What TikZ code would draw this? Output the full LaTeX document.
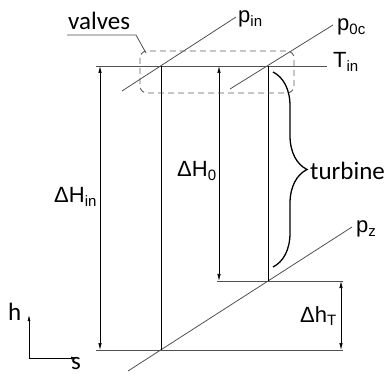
\documentclass[tikz,border=0pt]{standalone}
\usepackage{fontspec}
\setmainfont{Liberation Sans}
\newfontfamily\calfont{Carlito}
\usetikzlibrary{arrows.meta,decorations.pathreplacing}
\definecolor{Iso}{HTML}{505050}
\definecolor{Dash}{HTML}{5E5E5E}
\newcommand{\lowsub}[1]{\raisebox{-0.3ex}{\fontsize{15}{15}\selectfont #1}}

\begin{document}
\begin{tikzpicture}[x=1pt,y=-1pt,
  iso/.style={Iso,line width=0.8pt},
  dim/.style={{Latex[length=7pt,width=3.5pt]}-{Latex[length=7pt,width=3.5pt]},line width=0.7pt},
  lbl/.style={font=\fontsize{22}{22}\selectfont,inner sep=0pt,anchor=base west},
  cal/.style={font=\calfont\fontsize{25}{25}\selectfont,inner sep=0pt,anchor=base west}]
  \useasboundingbox (0,0) rectangle (391,374);
  % state points
  \coordinate (in) at (161,66);
  \coordinate (oc) at (268,66);
  \coordinate (z)  at (268,281);
  \coordinate (zt) at (161,350);
  % isobars
  \coordinate (pinL) at (122,91);  \coordinate (pinR) at (236,17);
  \coordinate (pocL) at (230,89);  \coordinate (pocR) at (333,25);
  \coordinate (pzL)  at (128,371); \coordinate (pzR)  at (352,227);
  \draw[iso] (pinL) -- (pinR);
  \draw[iso] (pocL) -- (pocR);
  \draw[iso] (pzL) -- (pzR);
  \node[lbl] (pin) at (238,23) {p\lowsub{in}};
  \node[lbl] (poc) at (337,31) {p\lowsub{0c}};
  \node[lbl] (pz)  at (356,233) {p\lowsub{z}};
  % enthalpy levels
  \coordinate (topL) at (96,66);  \coordinate (topR) at (327,66);
  \coordinate (midL) at (217,281); \coordinate (midR) at (343,281);
  \coordinate (botL) at (96,350); \coordinate (botR) at (343,350);
  \draw[iso] (topL) -- (topR);
  \draw[iso] (midL) -- (midR);
  \draw[iso] (botL) -- (botR);
  \node[lbl] (tin) at (333,68) {T\lowsub{in}};
  % expansion lines
  \draw[line width=0.8pt] (in) -- (zt);
  \draw[line width=0.8pt] (oc) -- (z);
  % drops
  \coordinate (hinT) at (100,66);  \coordinate (hinB) at (100,350);
  \coordinate (h0T)  at (219,66);  \coordinate (h0B)  at (219,281);
  \coordinate (hTT)  at (341,281); \coordinate (hTB)  at (341,350);
  \draw[dim] (hinT) -- (hinB);
  \draw[dim] (h0T) -- (h0B);
  \draw[dim] (hTT) -- (hTB);
  \node[lbl] (dhin) at (54,203) {ΔH\lowsub{in}};
  \node[lbl] (dh0)  at (177,177) {ΔH\lowsub{0}};
  \node[lbl] (dhT)  at (300,322) {Δh\lowsub{T}};
  % valves
  \draw[Dash,dash pattern=on 6pt off 4pt,line width=0.9pt,rounded corners=7pt]
    (140,51) rectangle (294,93);
  \coordinate (vL) at (67,35); \coordinate (vR) at (136,35); \coordinate (vB) at (146,53);
  \draw[Iso,line width=0.8pt] (vL) -- (vR) -- (vB);
  \node[cal] (valves) at (68,30) {valves};
  % turbine
  \coordinate (brT) at (273,72); \coordinate (brB) at (273,267);
  \draw[line width=1.3pt,decorate,decoration={brace,amplitude=34pt}] (brT) -- (brB);
  \node[cal] (turb) at (310,180) {turbine};
  % axes
  \coordinate (o) at (29,358);
  \draw[-{Latex[length=6pt,width=3pt]},line width=0.7pt] (o) -- (29,315);
  \draw[-{Latex[length=6pt,width=3pt]},line width=0.7pt] (o) -- (77,358);
  \node[cal] (h) at (8,320) {h};
  \node[cal] (s) at (71,369) {s};
\end{tikzpicture}
\end{document}
